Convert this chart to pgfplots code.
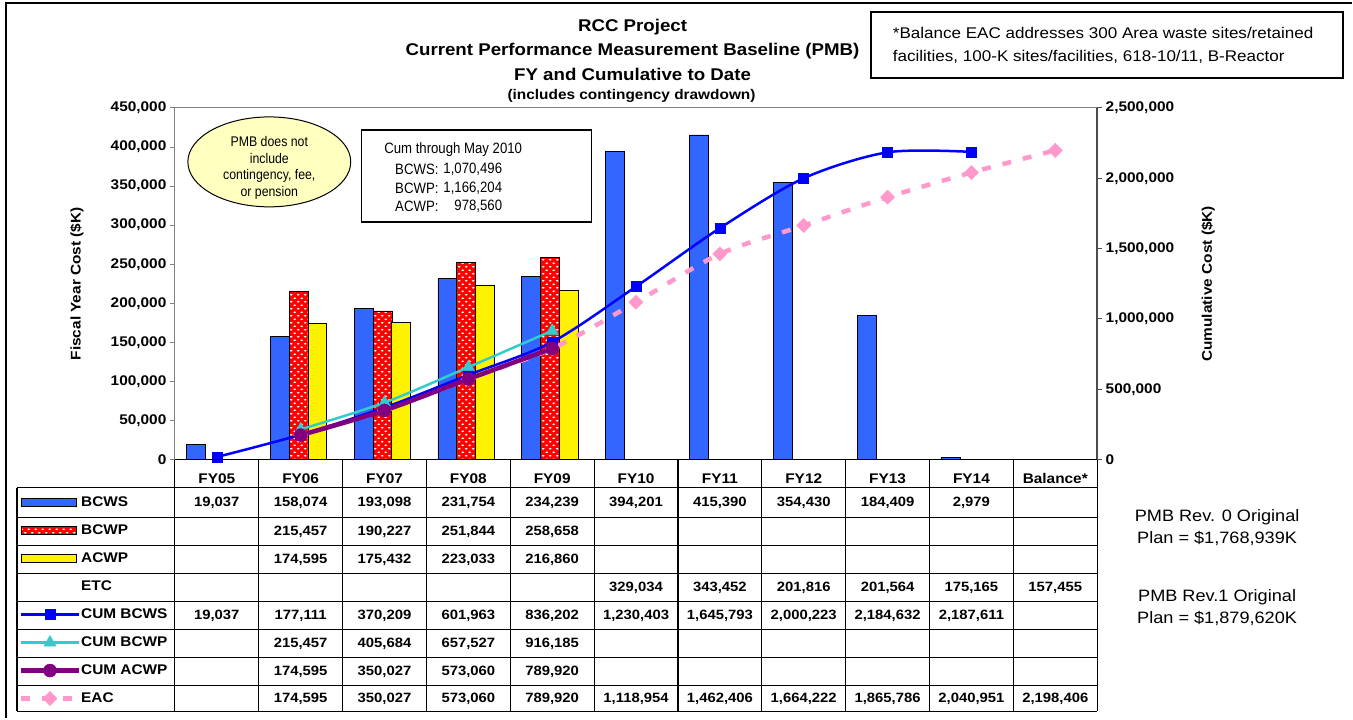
\documentclass[border=0pt]{standalone}
\usepackage{fontspec}
\setmainfont{Liberation Sans}[FakeStretch=1.1]
\newfontfamily\narrowfont{Liberation Sans}[FakeStretch=0.88]
\usepackage{pgfplots}
\pgfplotsset{compat=1.18}
\usetikzlibrary{patterns}
\definecolor{bcws}{HTML}{3366FF}
\definecolor{cumbcws}{HTML}{0000FF}
\definecolor{cumbcwp}{HTML}{33CCCC}
\definecolor{cumacwp}{HTML}{800080}
\definecolor{eac}{HTML}{FF99CC}
\definecolor{ellfill}{HTML}{FFFFC0}
\pgfdeclarepatternformonly{reddots}{\pgfpointorigin}{\pgfqpoint{7pt}{7pt}}{\pgfqpoint{7pt}{7pt}}{%
 \pgfpathellipse{\pgfqpoint{1.75pt}{1.75pt}}{\pgfqpoint{1.5pt}{0pt}}{\pgfqpoint{0pt}{0.9pt}}%
 \pgfpathellipse{\pgfqpoint{5.25pt}{5.25pt}}{\pgfqpoint{1.5pt}{0pt}}{\pgfqpoint{0pt}{0.9pt}}%
 \pgfusepath{fill}}
\newcommand{\fs}[1]{\fontsize{#1}{#1}\selectfont}
\newcommand{\tabrow}[2]{\foreach \v [count=\i from 0] in {#2} {\node[font=\bfseries\fs{13.5}] at ({175+83.909*(\i+0.5)},#1) {\v};}}
\begin{document}
\begin{tikzpicture}
\begin{scope}[x=1pt,y=-1pt]
\path[use as bounding box] (0,0) rectangle (1353,719);
\end{scope}

\begin{axis}[at={(175pt,-460pt)}, anchor=south west, scale only axis, width=923pt, height=352pt,
 xmin=-0.5, xmax=10.5, ymin=0, ymax=450000,
 axis line style={draw=gray, line width=1pt},
 ytick={0,50000,100000,150000,200000,250000,300000,350000,400000,450000}, ytick pos=left,
 tick align=outside, major tick length=5pt,
 y tick style={draw=gray, line width=1pt},
 scaled y ticks=false,
 y tick label style={font=\bfseries\fs{14}, /pgf/number format/.cd, fixed, 1000 sep={,}, assume math mode=true},
 xtick={0,1,2,3,4,5,6,7,8,9,10}, xticklabels={FY05,FY06,FY07,FY08,FY09,FY10,FY11,FY12,FY13,FY14,Balance*},
 x tick style={draw=none}, x tick label style={font=\bfseries\fs{14}, anchor=center, yshift=-14pt},
 ylabel={Fiscal Year Cost (\$K)}, ylabel style={font=\bfseries\fs{14}, at={(axis description cs:-0.1062,0.5)}, anchor=center},
 ybar, bar width=0.226,
]
\addplot[fill=bcws, draw=black, line width=0.8pt, bar shift=-0.25] coordinates {(0,19037) (1,158074) (2,193098) (3,231754) (4,234239) (5,394201) (6,415390) (7,354430) (8,184409) (9,2979)};
\addplot[fill=red, draw=black, line width=0.8pt, bar shift=-0.024, postaction={pattern=reddots, pattern color=white}] coordinates {(1,215457) (2,190227) (3,251844) (4,258658)};
\addplot[fill=yellow, draw=black, line width=0.8pt, bar shift=0.2] coordinates {(1,174595) (2,175432) (3,223033) (4,216860)};
\end{axis}

\begin{axis}[at={(175pt,-460pt)}, anchor=south west, scale only axis, width=923pt, height=352pt,
 xmin=-0.5, xmax=10.5, ymin=0, ymax=2500000,
 axis x line=none, axis y line*=right,
 y axis line style={draw=black!70, line width=1.5pt},
 ytick={0,500000,1000000,1500000,2000000,2500000},
 tick align=outside, major tick length=5pt, y tick style={draw=black!70, line width=1pt},
 scaled y ticks=false,
 y tick label style={font=\bfseries\fs{14}, /pgf/number format/.cd, fixed, 1000 sep={,}, assume math mode=true},
 ylabel={Cumulative Cost (\$K)}, ylabel style={font=\bfseries\fs{14}, at={(axis description cs:1.1203,0.5)}, anchor=center},
 legend style={at={(axis description cs:-0.17118,-0.08239)}, anchor=north west, draw=none, fill=none,
   inner sep=0pt, outer sep=0pt, row sep=0pt, column sep=0pt,
   nodes={inner sep=0pt, minimum height=28pt, font=\bfseries\fs{14}}},
 legend cell align=left,
 legend image code/.code={\path[draw=none] (0pt,0pt) -- (64pt,0pt); \draw[mark repeat=2,mark phase=2] plot coordinates {(4pt,0pt) (33pt,0pt) (62pt,0pt)};},
]
\addlegendimage{draw=none, legend image code/.code={\path[draw=none] (0pt,0pt) -- (64pt,0pt); \filldraw[fill=bcws,draw=black,line width=0.8pt] (4pt,-4pt) rectangle (59pt,4pt);}}
\addlegendentry{BCWS}
\addlegendimage{draw=none, legend image code/.code={\path[draw=none] (0pt,0pt) -- (64pt,0pt); \fill[red] (4pt,-4pt) rectangle (59pt,4pt); \fill[pattern=reddots, pattern color=white] (4pt,-4pt) rectangle (59pt,4pt); \draw[black,line width=0.8pt] (4pt,-4pt) rectangle (59pt,4pt);}}
\addlegendentry{BCWP}
\addlegendimage{draw=none, legend image code/.code={\path[draw=none] (0pt,0pt) -- (64pt,0pt); \filldraw[fill=yellow,draw=black,line width=0.8pt] (4pt,-4pt) rectangle (59pt,4pt);}}
\addlegendentry{ACWP}
\addlegendimage{draw=none, legend image code/.code={\path[draw=none] (0pt,0pt) -- (64pt,0pt);}}
\addlegendentry{ETC}
\addplot[eac, line width=4.5pt, dash pattern=on 9pt off 12pt, smooth, mark=square*, mark size=5pt, mark options={solid, rotate=45, line width=0.5pt}, forget plot] coordinates {(1,174595) (2,350027) (3,573060) (4,789920) (5,1118954) (6,1462406) (7,1664222) (8,1865786) (9,2040951) (10,2198406)};
\addplot[cumbcws, line width=2.5pt, smooth, mark=square*, mark size=5pt, mark options={line width=0.5pt}] coordinates {(0,19037) (1,177111) (2,370209) (3,601963) (4,836202) (5,1230403) (6,1645793) (7,2000223) (8,2184632) (9,2187611)};
\addlegendentry{CUM BCWS}
\addplot[cumbcwp, line width=2.5pt, smooth, mark=triangle*, mark size=7pt, mark options={line width=0.5pt}] coordinates {(1,215457) (2,405684) (3,657527) (4,916185)};
\addlegendentry{CUM BCWP}
\addplot[cumacwp, line width=4.5pt, smooth, mark=*, mark size=6.5pt, mark options={line width=0.5pt}] coordinates {(1,174595) (2,350027) (3,573060) (4,789920)};
\addlegendentry{CUM ACWP}
\addlegendimage{eac, line width=4.5pt, dash pattern=on 9pt off 12pt, mark=square*, mark size=5pt, mark options={solid, rotate=45, line width=0.5pt}}
\addlegendentry{EAC}
\end{axis}

\begin{scope}[x=1pt,y=-1pt]
\draw[line width=2pt] (6,719) -- (6,3) -- (1353,3);
\node[font=\bfseries\fs{17}] at (633,27) {RCC Project};
\node[font=\bfseries\fs{17}] at (633,51) {Current Performance Measurement Baseline (PMB)};
\node[font=\bfseries\fs{17}] at (633,74) {FY and Cumulative to Date};
\node[font=\bfseries\fs{14}] at (632,96) {(includes contingency drawdown)};
\draw[line width=1.8pt] (872,12) rectangle (1344,78);
\node[font=\fs{15.5}, anchor=west] at (890,33) {*Balance EAC addresses 300 Area waste sites/retained};
\node[font=\fs{15.5}, anchor=west] at (890,57) {facilities, 100-K sites/facilities, 618-10/11, B-Reactor};
\filldraw[fill=ellfill, draw=black, line width=1pt] (269.5,162) ellipse [x radius=81.5, y radius=45];
\node[font=\narrowfont\fontsize{14}{16.5}\selectfont, align=center] at (269.5,168) {PMB does not\\include\\contingency, fee,\\or pension};
\draw[line width=1.5pt] (362,130) rectangle (592,222);
\node[font=\narrowfont\fs{15}, anchor=west] at (381,150) {Cum through May 2010};
\node[font=\narrowfont\fs{15}, anchor=west] at (392,169) {BCWS:};
\node[font=\narrowfont\fs{15}, anchor=west] at (392,188) {BCWP:};
\node[font=\narrowfont\fs{15}, anchor=west] at (392,206) {ACWP:};
\node[font=\narrowfont\fs{15}, anchor=east] at (506,169) {1,070,496};
\node[font=\narrowfont\fs{15}, anchor=east] at (506,188) {1,166,204};
\node[font=\narrowfont\fs{15}, anchor=east] at (506,206) {978,560};
\foreach \y in {488,517.5,546,574,602,630,658,686,712} \draw[line width=1.2pt] (17,\y) -- (1098,\y);
\draw[line width=1.2pt] (175,460) -- (1098,460);
\draw[line width=1.2pt] (17,488) -- (17,712);
\foreach \k in {0,...,11} \draw[line width=1.2pt] ({175+83.909*\k},460) -- ({175+83.909*\k},712);
\tabrow{503}{{19,037},{158,074},{193,098},{231,754},{234,239},{394,201},{415,390},{354,430},{184,409},{2,979},{}}
\tabrow{532}{{},{215,457},{190,227},{251,844},{258,658},{},{},{},{},{},{}}
\tabrow{560}{{},{174,595},{175,432},{223,033},{216,860},{},{},{},{},{},{}}
\tabrow{588}{{},{},{},{},{},{329,034},{343,452},{201,816},{201,564},{175,165},{157,455}}
\tabrow{616}{{19,037},{177,111},{370,209},{601,963},{836,202},{1,230,403},{1,645,793},{2,000,223},{2,184,632},{2,187,611},{}}
\tabrow{644}{{},{215,457},{405,684},{657,527},{916,185},{},{},{},{},{},{}}
\tabrow{672}{{},{174,595},{350,027},{573,060},{789,920},{},{},{},{},{},{}}
\tabrow{699}{{},{174,595},{350,027},{573,060},{789,920},{1,118,954},{1,462,406},{1,664,222},{1,865,786},{2,040,951},{2,198,406}}
\node[font=\fontsize{16.5}{22}\selectfont, align=center] at (1218,528) {PMB Rev. 0 Original\\Plan = \$1,768,939K};
\node[font=\fontsize{16.5}{22}\selectfont, align=center] at (1218,608) {PMB Rev.1 Original\\Plan = \$1,879,620K};
\end{scope}
\end{tikzpicture}
\end{document}
